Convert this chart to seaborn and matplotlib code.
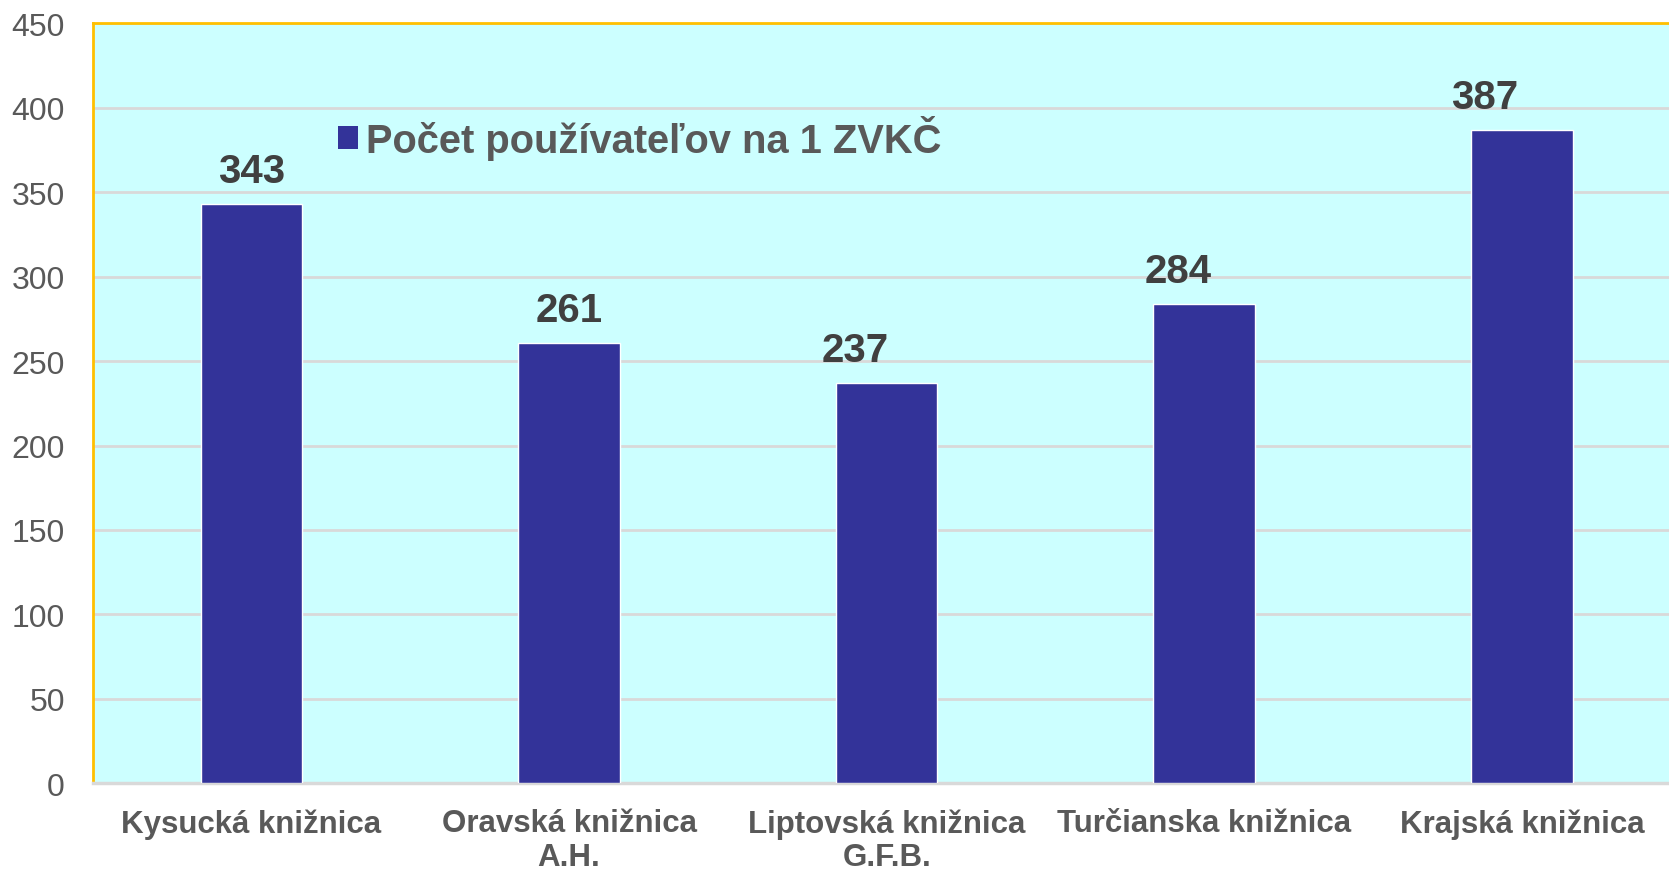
import numpy as np
import pandas as pd
import seaborn as sns
import matplotlib.pyplot as plt
from matplotlib.patches import Patch

sns.set_style("white")

# data
kniznice = ["Kysucká knižnica", "Oravská knižnica\nA.H.", "Liptovská knižnica\nG.F.B.",
            "Turčianska knižnica", "Krajská knižnica"]
pouzivatelia = [343, 261, 237, 284, 387]
legenda = "Počet používateľov na 1 ZVKČ"
y_ticks = [0, 50, 100, 150, 200, 250, 300, 350, 400, 450]

# label nudges as in the original (points)
label_dx = [0, 0, -23, -19, -27]

df = pd.DataFrame({"kniznica": kniznice, "pocet": pouzivatelia})

fig = plt.figure(figsize=(16.69, 8.70), dpi=100)
ax = fig.add_axes([0.0555, 0.0985, 0.9515, 0.8735])
ax.set_facecolor("#CCFFFF")

sns.barplot(data=df, x="kniznica", y="pocet", color="#333399", width=0.32,
            saturation=1, ax=ax, zorder=3)

ax.set_ylim(0, 450)
ax.set_yticks(y_ticks)
ax.yaxis.grid(True, color="#D9D9D9", linewidth=2, zorder=0)
ax.set_axisbelow(True)
ax.set_xlabel("")
ax.set_ylabel("")

fam = ["Liberation Sans", "DejaVu Sans"]
ax.tick_params(axis="y", length=0, pad=20, labelsize=23, labelcolor="#595959")
ax.tick_params(axis="x", length=0, pad=18, labelcolor="#595959")
for t in ax.get_yticklabels():
    t.set_family(fam)
for t in ax.get_xticklabels():
    t.set_family(fam)
    t.set_fontweight("bold")
    t.set_fontsize(22.5)
    t.set_linespacing(1.15)

for s in ["top", "left"]:
    ax.spines[s].set_color("#FFC000")
    ax.spines[s].set_linewidth(2)
ax.spines["bottom"].set_color("#D9D9D9")
ax.spines["bottom"].set_linewidth(2.5)
ax.spines["right"].set_visible(False)

for i, (v, dx) in enumerate(zip(pouzivatelia, label_dx)):
    ax.annotate(str(v), xy=(i, v), xytext=(dx, 10), textcoords="offset points",
                ha="center", va="bottom", fontsize=29, fontweight="bold",
                color="#404040", family=fam)

h = [Patch(facecolor="#333399", edgecolor="none")]
leg = ax.legend(h, [legenda], loc="upper left", bbox_to_anchor=(0.132, 0.927),
                frameon=False, handlelength=0.5, handleheight=0.5,
                handletextpad=0.2, prop={"family": fam, "weight": "bold", "size": 28.7})
for t in leg.get_texts():
    t.set_color("#595959")

fig.savefig("out.png", dpi=100)
